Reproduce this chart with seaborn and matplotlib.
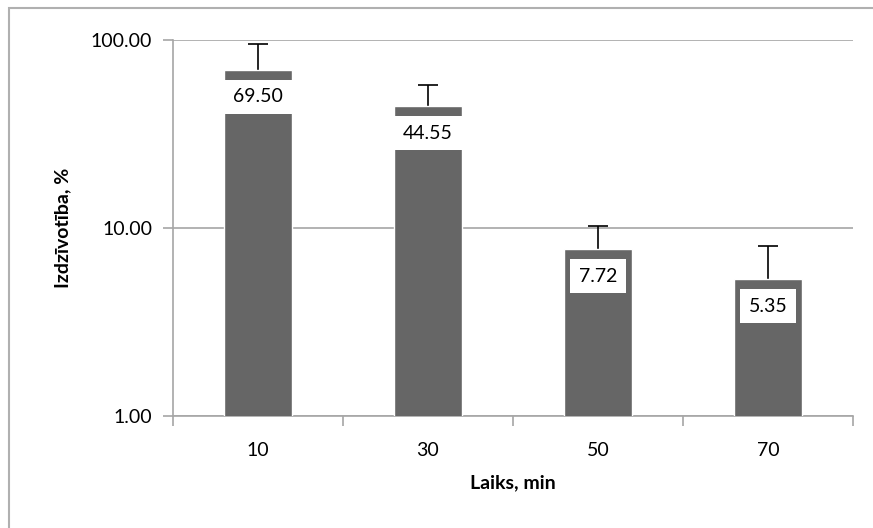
import matplotlib
matplotlib.use("Agg")
import matplotlib.pyplot as plt
import seaborn as sns
import numpy as np
import pandas as pd
from matplotlib.ticker import FixedLocator, FuncFormatter, NullLocator
from matplotlib.patches import Rectangle

categories = ["10", "30", "50", "70"]
values = [69.50, 44.55, 7.72, 5.35]
errors_up = [25.7, 13.0, 2.55, 2.7]
value_labels = ["69.50", "44.55", "7.72", "5.35"]
y_ticks = [1, 10, 100]

sns.set_theme(style="white")
plt.rcParams['font.family'] = ['Lato', 'DejaVu Sans']

fig = plt.figure(figsize=(8.73, 5.28), dpi=100)
ax = fig.add_axes([0.198, 0.212, 0.779, 0.712])

# outer border (right and bottom edges fall outside the image)
fig.patches.append(Rectangle((9 / 873, -0.05), 1.0, 1 - 8 / 528 + 0.05, transform=fig.transFigure,
                             fill=False, edgecolor="#b0b0b0", linewidth=1.5))

df = pd.DataFrame({"Laiks": categories, "Izdz": values})
sns.barplot(data=df, x="Laiks", y="Izdz", color="#666666", width=0.4,
            saturation=1, ax=ax, errorbar=None)
for p in ax.patches:
    p.set_zorder(3)
ax.set_yscale("log")
ax.set_ylim(1, 100)
ax.set_xlim(-0.5, len(categories) - 0.5)

xpos = np.arange(len(categories))
eb = ax.errorbar(xpos, values, yerr=[np.zeros(len(values)), errors_up], fmt="none",
                 ecolor="black", elinewidth=1.2, capsize=7, capthick=1.2, zorder=2)
caps = eb.lines[1]
if len(caps) == 2:
    # hide the lower caps, keep only the upper ones
    lo, hi = caps
    ylo = np.asarray(lo.get_ydata(), dtype=float)
    if np.allclose(ylo, values):
        lo.set_visible(False)
    else:
        hi.set_visible(False)

for x, v, lab in zip(xpos, values, value_labels):
    ax.annotate(lab, xy=(x, v), xytext=(0, -27), textcoords="offset pixels",
                ha="center", va="center", fontsize=14, color="black", zorder=5,
                bbox=dict(boxstyle="square,pad=0.45", facecolor="white", edgecolor="none"))

ax.yaxis.set_major_locator(FixedLocator(y_ticks))
ax.yaxis.set_minor_locator(NullLocator())
ax.yaxis.set_major_formatter(FuncFormatter(lambda v, p: f"{v:.2f}"))
ax.grid(axis="y", color="#a6a6a6", linewidth=1.2, zorder=0)
ax.grid(axis="x", visible=False)

for s in ["top", "right"]:
    ax.spines[s].set_visible(False)
for s in ["left", "bottom"]:
    ax.spines[s].set_color("#a6a6a6")
    ax.spines[s].set_linewidth(1.2)

# x ticks at category boundaries
ax.set_xticks(xpos)
ax.set_xticks(np.arange(-0.5, len(categories)), minor=True)
ax.tick_params(axis="x", which="major", length=0, labelsize=14, pad=19, colors="black")
ax.tick_params(axis="x", which="minor", length=7, width=1.2, color="#a6a6a6", direction="out")
ax.tick_params(axis="y", which="major", length=7, width=1.2, color="#a6a6a6", direction="out",
               labelsize=14, pad=8, labelcolor="black")
ax.tick_params(axis="y", left=True)
ax.tick_params(axis="x", which="minor", bottom=True)

ax.set_xlabel("Laiks, min", fontsize=14, fontweight="bold", labelpad=11, color="black")
ax.set_ylabel("Izdzīvotība, %", fontsize=14, fontweight="bold", labelpad=14, color="black")

fig.savefig("out.png", dpi=100)
